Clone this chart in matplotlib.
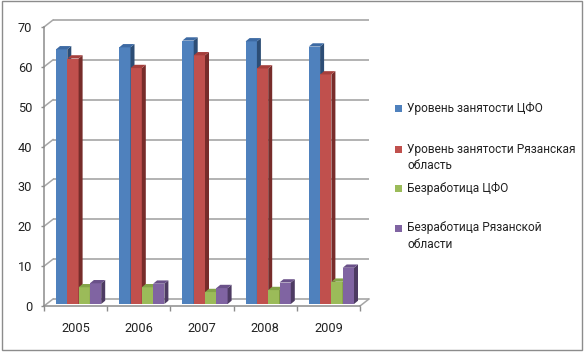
import matplotlib

matplotlib.use("Agg")
import matplotlib.pyplot as plt
from matplotlib.patches import Polygon, Rectangle

years = ["2005", "2006", "2007", "2008", "2009"]
series_names = [
    "Уровень занятости ЦФО",
    "Уровень занятости Рязанская\nобласть",
    "Безработица ЦФО",
    "Безработица Рязанской\nобласти",
]
empl_cfo = [63.9, 64.4, 66.1, 65.9, 64.6]
empl_ryazan = [61.6, 59.2, 62.4, 59.1, 57.6]
unemp_cfo = [4.2, 4.2, 3.0, 3.5, 5.6]
unemp_ryazan = [5.2, 5.1, 4.0, 5.4, 9.1]
y_ticks = [0, 10, 20, 30, 40, 50, 60, 70]

front_colors = ["#4f81bd", "#c0504d", "#9bbb59", "#8064a2"]
side_colors = ["#2c4d75", "#772c2a", "#5f7530", "#4d3b62"]
top_colors = ["#3d6aa3", "#a53f3c", "#84a449", "#6a5189"]

plt.rcParams["font.family"] = ["Roboto", "DejaVu Sans"]

W, H = 586, 353
fig = plt.figure(figsize=(W / 100, H / 100), dpi=100)
fig.patch.set_facecolor("white")

# front plane of the plot area in pixels
px_left, px_right, px_bottom, px_top = 44, 360, 306, 27
ax = fig.add_axes([px_left / W, (H - px_bottom) / H,
                   (px_right - px_left) / W, (px_bottom - px_top) / H])
ax.set_xlim(0, len(years))
ax.set_ylim(0, 70)
ax.patch.set_alpha(0)

ux = (px_right - px_left) / len(years)   # px per category
uy = (px_bottom - px_top) / 70.0         # px per unit
DX = 9 / ux
DY = 7 / uy

grid_color = "#a6a6a6"
axis_color = "#8c8c8c"

# back wall gridlines + side wall diagonals
for t in y_ticks:
    ax.plot([DX, len(years) + DX], [t + DY, t + DY], color=grid_color,
            lw=1.2, clip_on=False, zorder=1, solid_capstyle="butt")
    ax.plot([0, DX], [t, t + DY], color=grid_color, lw=1.1,
            clip_on=False, zorder=1)
ax.plot([len(years), len(years) + DX], [0, DY], color=grid_color, lw=1.1,
        clip_on=False, zorder=1)

# 3D bars
series = [empl_cfo, empl_ryazan, unemp_cfo, unemp_ryazan]
bar_w = 11.3 / ux
group_off = 12 / ux
d0 = 0.28
ddx = 4.0 / ux
ddy = 3.3 / uy
z = 3
for i in range(len(years)):
    for j, vals in enumerate(series):
        v = vals[i]
        x0 = i + group_off + j * bar_w
        b0 = d0 * DY
        ax.bar(x0, v, width=bar_w, bottom=b0, align="edge",
               color=front_colors[j], edgecolor="none", zorder=z,
               clip_on=False)
        side = [(x0 + bar_w, b0), (x0 + bar_w + ddx, b0 + ddy),
                (x0 + bar_w + ddx, b0 + v + ddy), (x0 + bar_w, b0 + v)]
        top = [(x0, b0 + v), (x0 + bar_w, b0 + v),
               (x0 + bar_w + ddx, b0 + v + ddy), (x0 + ddx, b0 + v + ddy)]
        ax.add_patch(Polygon(side, closed=True, facecolor=side_colors[j],
                             edgecolor="none", zorder=z + 0.1, clip_on=False))
        ax.add_patch(Polygon(top, closed=True, facecolor=top_colors[j],
                             edgecolor="none", zorder=z + 0.1, clip_on=False))
        z += 1

# axes
for s in ["top", "right"]:
    ax.spines[s].set_visible(False)
for s in ["left", "bottom"]:
    ax.spines[s].set_color(axis_color)
    ax.spines[s].set_linewidth(1.1)
    ax.spines[s].set_zorder(50)
ax.set_yticks(y_ticks)
ax.set_yticklabels([str(t) for t in y_ticks])
ax.tick_params(axis="y", length=2.5, width=1, color=axis_color,
               labelsize=9.2, pad=6, labelcolor="#222222")
ax.set_xticks(range(len(years) + 1))
ax.set_xticklabels([])
ax.tick_params(axis="x", which="major", length=3.5, width=1,
               color=axis_color)
ax.set_xticks([i + 0.5 for i in range(len(years))], minor=True)
ax.set_xticklabels(years, minor=True)
ax.tick_params(axis="x", which="minor", length=0, labelsize=9.2, pad=11.5,
               labelcolor="#222222")

# legend
legend_y = [108, 149, 188, 228]
for name, y, c in zip(series_names, legend_y, front_colors):
    fig.patches.append(Rectangle((395 / W, (H - y - 3.5) / H), 7 / W, 7 / H,
                                 transform=fig.transFigure, facecolor=c,
                                 edgecolor="none"))
    fig.text(407 / W, (H - y + 6.5) / H, name, ha="left", va="top",
             fontsize=8.6, color="#222222", linespacing=1.35)

# outer chart border
fig.patches.append(Rectangle((2 / W, 3 / H), 580 / W, 349 / H,
                             transform=fig.transFigure, fill=False,
                             edgecolor="#8c8c8c", linewidth=1))

fig.savefig("out.png", dpi=100)
